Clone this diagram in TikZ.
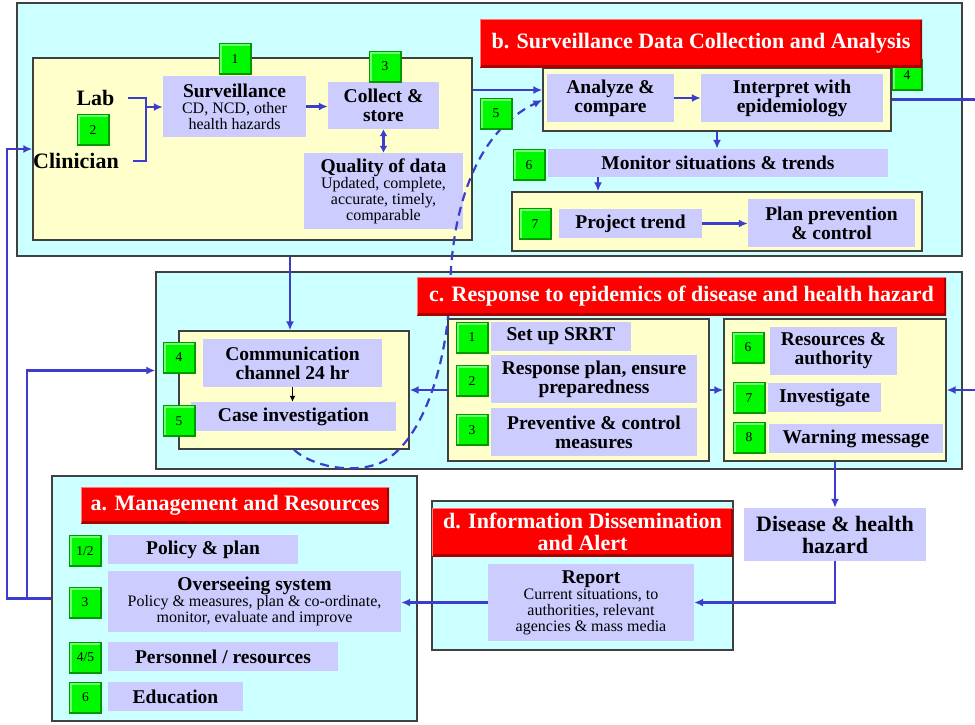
\documentclass[tikz,border=0pt]{standalone}
\usepackage{fontspec}
\setmainfont{Liberation Serif}
\usetikzlibrary{arrows.meta}

\definecolor{panelcyan}{HTML}{CCFFFF}
\definecolor{paleyellow}{HTML}{FFFFCC}
\definecolor{boxlav}{HTML}{CCCCFF}
\definecolor{flowblue}{RGB}{60,60,205}
\definecolor{gfill}{HTML}{00F800}
\definecolor{gdark}{HTML}{009A00}
\definecolor{glight}{HTML}{70FF70}
\definecolor{rfill}{HTML}{FF0000}
\definecolor{rdark}{HTML}{A80000}
\definecolor{rlight}{HTML}{FF7878}
\definecolor{edgegray}{HTML}{404040}

\newcommand\boxbf{\fontsize{19.5}{19}\selectfont\bfseries}
\newcommand\boxrm{\fontsize{16}{16}\selectfont}
\newcommand\headbf{\fontsize{22}{22}\selectfont\bfseries}

\tikzset{
  panel/.style={draw=edgegray, line width=1.4pt, fill=panelcyan, inner sep=0pt},
  ybox/.style={draw=edgegray, line width=1.4pt, fill=paleyellow, inner sep=0pt},
  lbox/.style={fill=boxlav, inner sep=0pt, align=center, font=\boxbf, text=black},
  mixbox/.style={lbox, font=\boxrm},
  nbox/.style={fill=gfill, draw=gdark, line width=0.6pt, inner sep=0pt,
    minimum width=32pt, minimum height=31pt, font=\fontsize{13.5}{13.5}\selectfont,
    path picture={
      \draw[line width=3pt, gdark] (path picture bounding box.south west) --
        (path picture bounding box.south east) -- (path picture bounding box.north east);
      \draw[line width=2pt, glight] ([xshift=1.5pt,yshift=1.5pt]path picture bounding box.south west) --
        ([xshift=1.5pt,yshift=-1.5pt]path picture bounding box.north west) --
        ([xshift=-1.5pt,yshift=-1.5pt]path picture bounding box.north east);
    }},
  headbox/.style={fill=rfill, inner sep=0pt, align=center, font=\headbf, text=white,
    path picture={
      \draw[line width=5pt, rdark] (path picture bounding box.south west) --
        (path picture bounding box.south east) -- (path picture bounding box.north east);
      \draw[line width=2.5pt, rlight] (path picture bounding box.south west) --
        (path picture bounding box.north west) -- (path picture bounding box.north east);
    }},
  tag/.style={inner sep=0pt, font=\fontsize{22}{22}\selectfont\bfseries},
  link/.style={draw=flowblue, line width=2.2pt},
  flow/.style={link, ->},
  dashflow/.style={link, ->, dash pattern=on 9pt off 6pt},
  >={Latex[length=9pt,width=8pt]}
}

\begin{document}
\begin{tikzpicture}[x=1pt,y=-1pt]
\fill[white] (0,0) rectangle (975,724);
\useasboundingbox (0,0) rectangle (975,724);

% ---- section panels
\node[panel, minimum width=945pt, minimum height=253pt] (panelB) at (489.5,129.5) {};
\node[panel, minimum width=806pt, minimum height=197pt] (panelC) at (559,370.5) {};
\node[panel, minimum width=365pt, minimum height=245pt] (panelA) at (234.5,598.5) {};
\node[panel, minimum width=301pt, minimum height=149pt] (panelD) at (582.5,575.5) {};

% ---- grouping boxes
\node[ybox, minimum width=439pt, minimum height=182pt] (yA)  at (252.5,149) {};
\node[ybox, minimum width=348pt, minimum height=63pt]  (yB1) at (717,99.5) {};
\node[ybox, minimum width=410pt, minimum height=59pt]  (yB2) at (717,221.5) {};
\node[ybox, minimum width=230pt, minimum height=118pt] (yC1) at (294,390) {};
\node[ybox, minimum width=261pt, minimum height=142pt] (yC2) at (578.5,390) {};
\node[ybox, minimum width=222pt, minimum height=142pt] (yC3) at (835,390) {};

% ---- data sources
\node[tag] (lab)  at (95.5,98) {Lab};
\node[tag] (clin) at (76,161) {Clinician};

% ---- step boxes
\node[mixbox, minimum width=143pt, minimum height=61pt] (surv) at (234.5,106.5)
  {{\boxbf Surveillance}\\CD, NCD, other\\health hazards};
\node[lbox, minimum width=111pt, minimum height=47pt] (collect) at (383.5,105.5) {Collect \&\\store};
\node[mixbox, minimum width=159pt, minimum height=76pt] (quality) at (383.5,191)
  {{\boxbf Quality of data}\\Updated, complete,\\accurate, timely,\\comparable};
\node[lbox, minimum width=127pt, minimum height=48pt] (analyze) at (610.5,98) {Analyze \&\\compare};
\node[lbox, minimum width=182pt, minimum height=48pt] (interp) at (792,98) {Interpret with\\epidemiology};
\node[lbox, minimum width=340pt, minimum height=28pt] (monitor) at (718,163) {Monitor situations \& trends};
\node[lbox, minimum width=143pt, minimum height=29pt] (project) at (630.5,223.5) {Project trend};
\node[lbox, minimum width=167pt, minimum height=48pt] (plan) at (831.5,223) {Plan prevention\\\& control};

\node[lbox, minimum width=179pt, minimum height=48pt] (comm) at (292.5,363) {Communication\\channel 24 hr};
\node[lbox, minimum width=205pt, minimum height=29pt] (caseinv) at (293.5,416.5) {Case investigation};
\node[lbox, minimum width=140pt, minimum height=29pt] (srrt) at (561,336.5) {Set up SRRT};
\node[lbox, minimum width=206pt, minimum height=48pt] (respplan) at (594,379) {Response plan, ensure\\preparedness};
\node[lbox, minimum width=206pt, minimum height=48pt] (prevent) at (594,432) {Preventive \& control\\measures};
\node[lbox, minimum width=127pt, minimum height=48pt] (resources) at (833.5,351) {Resources \&\\authority};
\node[lbox, minimum width=113pt, minimum height=29pt] (investigate) at (824.5,397.5) {Investigate};
\node[lbox, minimum width=174pt, minimum height=29pt] (warning) at (856,438.5) {Warning message};

\node[lbox, minimum width=190pt, minimum height=29pt] (policy) at (203,549.5) {Policy \& plan};
\node[mixbox, minimum width=293pt, minimum height=61pt] (oversee) at (254.5,601.5)
  {{\boxbf Overseeing system}\\Policy \& measures, plan \& co-ordinate,\\monitor, evaluate and improve};
\node[lbox, minimum width=230pt, minimum height=29pt] (personnel) at (223,656.5) {Personnel / resources};
\node[lbox, minimum width=135pt, minimum height=29pt] (education) at (175.5,696.5) {Education};

\node[mixbox, minimum width=206pt, minimum height=77pt] (report) at (591,602.5)
  {{\boxbf Report}\\Current situations, to\\authorities, relevant\\agencies \& mass media};
\node[lbox, font=\headbf, minimum width=182pt, minimum height=53pt] (disease) at (835,534.5)
  {Disease \& health\\hazard};

% ---- free ends at the right border
\coordinate (rimTop) at (975,99.5);
\coordinate (rimMid) at (975,390);

% ---- connectors
\coordinate (merge) at (146,107);
\draw[link] (lab.east) ++(13,0) -| (merge);
\draw[link] (clin.east) ++(14,0) -| (merge);
\draw[flow] (merge) -- (merge -| surv.west);
\draw[flow] (surv.east) -- (surv.east -| collect.west);
\draw[link, <->, >={Latex[length=7pt,width=8pt]}] (collect.south) -- (quality.north);
\draw[flow] (yA.east |- 0,90) -- ([yshift=9.5pt]yB1.west);
\draw[flow] (analyze.east) -- (interp.west);
\draw[flow] (yB1.south) -- (yB1.south |- monitor.north);
\draw[flow] ([xshift=-120pt]monitor.south) -- ([xshift=-120pt]monitor.south |- yB2.north);
\draw[flow] (project.east) -- (project.east -| plan.west);
\draw[link] (yB1.east) -- (rimTop);
\draw[flow] (rimMid) -- (yC3.east);
\draw[flow] ([xshift=-4pt]yC1.north |- panelB.south) -- ([xshift=-4pt]yC1.north);
\draw[flow] (yC2.west) -- (yC1.east);
\draw[flow] (yC2.east) -- (yC3.west);
\draw[black, line width=1.2pt, -{Latex[length=6pt,width=6pt]}] (comm.south) -- (comm.south |- caseinv.north);
\draw[flow] (yC3.south -| disease.north) -- (disease.north);
\draw[flow] (disease.south) |- (report.east);
\draw[flow] (report.west) -- (report.west -| oversee.east);
\draw[flow] (panelA.west) -| ([xshift=-25pt]yA.west) -- (yA.west);
\draw[flow] (panelA.west) -| ([xshift=-128pt]panelC.west) -- (panelC.west);

% ---- feedback from case investigation to analysis
\draw[dashflow] (yC1.south) .. controls (310,465) and (350,475) .. (380,463)
  .. controls (420,445) and (447,370) .. (450,290)
  .. controls (452,200) and (480,130) .. ([yshift=-0.5pt]yB1.west);

% ---- step numbers
\node[nbox] (gA1) at (235,59) {1};
\node[nbox] (gA2) at (93,130) {2};
\node[nbox] (gA3) at (385,66.5) {3};
\node[nbox, minimum width=30pt] (gB4) at (907,75) {4};
\node[nbox] (gB5) at (496,113.5) {5};
\node[nbox] (gB6) at (529,165) {6};
\node[nbox] (gB7) at (535,224) {7};
\node[nbox] (gC4) at (179,357.5) {4};
\node[nbox] (gC5) at (179,421) {5};
\node[nbox] (gC1) at (472,337.5) {1};
\node[nbox] (gC2) at (472,381) {2};
\node[nbox] (gC3) at (472,430) {3};
\node[nbox] (gC6) at (748,347.5) {6};
\node[nbox] (gC7) at (749,398) {7};
\node[nbox] (gC8) at (749,437.5) {8};
\node[nbox] (gM12) at (85,551) {1/2};
\node[nbox] (gM3) at (85,602.5) {3};
\node[nbox] (gM45) at (85.5,657.5) {4/5};
\node[nbox] (gM6) at (85.5,697.5) {6};

% ---- section headings
\node[headbox, minimum width=442pt, minimum height=48pt] (headB) at (701,43)
  {b. Surveillance Data Collection and Analysis};
\node[headbox, minimum width=529pt, minimum height=38pt] (headC) at (681.5,296)
  {c. Response to epidemics of disease and health hazard};
\node[headbox, minimum width=308pt, minimum height=36pt] (headA) at (235,505)
  {a. Management and Resources};
\node[headbox, minimum width=301pt, minimum height=48pt] (headD) at (582.5,532)
  {d. Information Dissemination\\and Alert};
\end{tikzpicture}
\end{document}
